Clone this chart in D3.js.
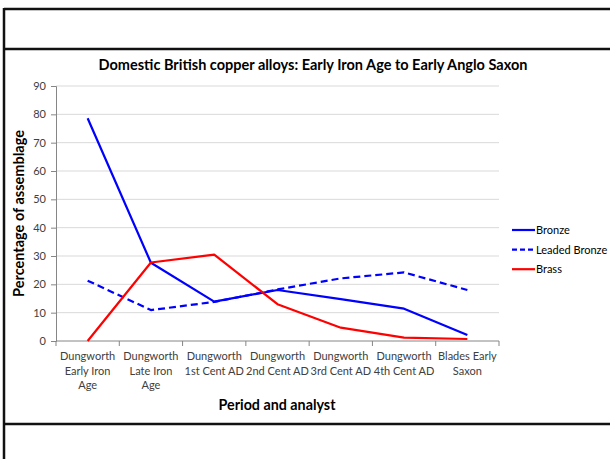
<!DOCTYPE html>
<html>
<head>
<meta charset="utf-8">
<script src="https://cdn.jsdelivr.net/npm/d3@7"></script>
<style>
  html, body { margin: 0; padding: 0; background: #fff; }
  svg { display: block; }
  text { font-family: Lato, "Open Sans", sans-serif; }
</style>
</head>
<body>
<script>
// Periods (with analyst) along the x axis, one line break per "|"
const categories = [
  "Dungworth|Early Iron|Age",
  "Dungworth|Late Iron|Age",
  "Dungworth|1st Cent AD",
  "Dungworth|2nd Cent AD",
  "Dungworth|3rd Cent AD",
  "Dungworth|4th Cent AD",
  "Blades Early|Saxon"
];
const bronze       = [78.6, 27.6, 13.9, 18.0, 14.8, 11.4, 2.1];
const leadedBronze = [21.3, 10.9, 13.8, 18.2, 22.1, 24.2, 18.0];
const brass        = [0.0, 27.7, 30.5, 13.0, 4.7, 1.2, 0.7];
const yTicks = [0, 10, 20, 30, 40, 50, 60, 70, 80, 90];

const seriesNames  = ["Bronze", "Leaded Bronze", "Brass"];
const seriesColors = ["#0000ff", "#0000ff", "#ff0000"];
const seriesDashes = [null, "7,4", null];
const seriesValues = [bronze, leadedBronze, brass];

const W = 610, H = 459;
const plot = { left: 56, right: 499, top: 86, bottom: 341 };

const svg = d3.select("body").append("svg").attr("width", W).attr("height", H);

// Outer frame: top edge, left edge, header divider, footer divider
const frame = svg.append("g").attr("stroke", "#111").attr("stroke-width", 2.5);
frame.append("line").attr("x1", 4).attr("x2", W).attr("y1", 9).attr("y2", 9);
frame.append("line").attr("x1", 4).attr("x2", 4).attr("y1", 8).attr("y2", H);
frame.append("line").attr("x1", 4).attr("x2", W).attr("y1", 49).attr("y2", 49);
frame.append("line").attr("x1", 4).attr("x2", W).attr("y1", 424).attr("y2", 424);

const x = d3.scaleBand().domain(d3.range(categories.length))
  .range([plot.left, plot.right]).padding(0);
const y = d3.scaleLinear().domain([0, 90]).range([plot.bottom, plot.top]);

// Horizontal gridlines
svg.append("g").selectAll("line").data(yTicks.filter(t => t > 0)).join("line")
  .attr("x1", plot.left).attr("x2", plot.right)
  .attr("y1", d => y(d)).attr("y2", d => y(d))
  .attr("stroke", "#d9d9d9").attr("stroke-width", 1);

// Y axis
const yAxis = svg.append("g").attr("transform", `translate(${plot.left},0)`)
  .call(d3.axisLeft(y).tickValues(yTicks).tickSize(5).tickPadding(5));
yAxis.select(".domain").attr("stroke", "#868686");
yAxis.selectAll(".tick line").attr("stroke", "#868686");
yAxis.selectAll(".tick text").attr("fill", "#404040")
  .style("font-size", "11px").style("font-family", "Lato, sans-serif");

// X axis: ticks at category boundaries
const xAxisG = svg.append("g").attr("transform", `translate(0,${plot.bottom})`);
xAxisG.append("line").attr("x1", plot.left).attr("x2", plot.right)
  .attr("stroke", "#868686");
const bounds = d3.range(categories.length + 1).map(i =>
  i < categories.length ? x(i) : x(categories.length - 1) + x.bandwidth());
xAxisG.selectAll("line.tk").data(bounds).join("line").attr("class", "tk")
  .attr("x1", d => d).attr("x2", d => d).attr("y1", 0).attr("y2", 5)
  .attr("stroke", "#868686");

// Category labels
const catLabels = svg.append("g").selectAll("text").data(categories).join("text")
  .attr("text-anchor", "middle").attr("fill", "#404040")
  .style("font-size", "11px");
catLabels.each(function(d, i) {
  const t = d3.select(this);
  d.split("|").forEach((line, j) => {
    t.append("tspan").attr("x", x(i) + x.bandwidth() / 2)
      .attr("y", 360 + j * 14.5).text(line);
  });
});

// Series lines
const line = d3.line().x((d, i) => x(i) + x.bandwidth() / 2).y(d => y(d));
seriesValues.forEach((vals, k) => {
  svg.append("path").datum(vals)
    .attr("d", line).attr("fill", "none")
    .attr("stroke", seriesColors[k]).attr("stroke-width", 2.2)
    .attr("stroke-dasharray", seriesDashes[k])
    .attr("stroke-linejoin", "round");
});

// Titles
svg.append("text").attr("x", 313).attr("y", 70).attr("text-anchor", "middle")
  .style("font-size", "14.5px").style("font-weight", "bold").attr("fill", "#000")
  .text("Domestic British copper alloys: Early Iron Age to Early Anglo Saxon");
svg.append("text").attr("x", 277).attr("y", 410).attr("text-anchor", "middle")
  .style("font-size", "14.3px").style("font-weight", "bold").attr("fill", "#000")
  .text("Period and analyst");
svg.append("text").attr("transform", `translate(24,${(plot.top + plot.bottom) / 2}) rotate(-90)`)
  .attr("text-anchor", "middle")
  .style("font-size", "14.5px").style("font-weight", "bold").attr("fill", "#000")
  .text("Percentage of assemblage");

// Legend
const legend = svg.append("g");
seriesNames.forEach((name, k) => {
  const ly = 230 + k * 19.6;
  legend.append("line").attr("x1", 512).attr("x2", 535).attr("y1", ly).attr("y2", ly)
    .attr("stroke", seriesColors[k]).attr("stroke-width", 2.2)
    .attr("stroke-dasharray", seriesDashes[k] ? "5,3" : null);
  legend.append("text").attr("x", 536).attr("y", ly + 4)
    .style("font-size", "11px").attr("fill", "#000").text(name);
});
</script>
</body>
</html>
